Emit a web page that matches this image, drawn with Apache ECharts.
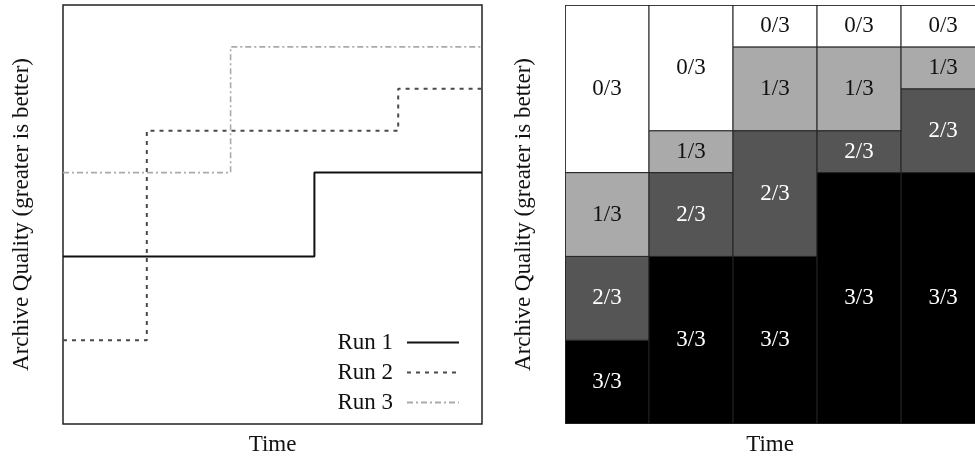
<!DOCTYPE html>
<html>
<head>
<meta charset="utf-8">
<script src="https://cdn.jsdelivr.net/npm/echarts@6/dist/echarts.min.js"></script>
<style>
html,body{margin:0;padding:0;background:#fff;}
#chart{width:975px;height:459px;}
</style>
</head>
<body>
<div id="chart"></div>
<script>
// ---- Data ----
const runNames = ['Run 1', 'Run 2', 'Run 3'];
const run1 = [[0, 4], [6, 6], [10, 6]];
const run2 = [[0, 2], [2, 7], [8, 8], [10, 8]];
const run3 = [[0, 6], [4, 9], [10, 9]];

// right panel: time bins and cells (the last column is cut off by the picture edge)
const timeBins = [[0, 2], [2, 4], [4, 6], [6, 8], [8, 10]];
const cellCol   = [0, 0, 0, 0, 1, 1, 1, 1, 2, 2, 2, 2, 3, 3, 3, 3, 4, 4, 4, 4];
const cellLow   = [0, 2, 4, 6, 0, 4, 6, 7, 0, 4, 7, 9, 0, 6, 7, 9, 0, 6, 8, 9];
const cellHigh  = [2, 4, 6, 10, 4, 6, 7, 10, 4, 7, 9, 10, 6, 7, 9, 10, 6, 8, 9, 10];
const cellCount = [3, 2, 1, 0, 3, 2, 1, 0, 3, 2, 1, 0, 3, 2, 1, 0, 3, 2, 1, 0];
const runTotal = 3;
const rightVisibleMax = 9.76; // visible part of the time axis in the right panel

const xTitle = 'Time';
const yTitle = 'Archive Quality (greater is better)';

// ---- Styles ----
const FONT = 'Liberation Serif';
const FS = 23;
const fillByCount = ['#ffffff', '#aaaaaa', '#555555', '#000000'];
const textByCount = ['#111111', '#111111', '#ffffff', '#ffffff'];

const cellData = cellCol.map((c, i) => [timeBins[c][0], timeBins[c][1], cellLow[i], cellHigh[i], cellCount[i]]);

function axisPair(idx, xmax) {
  return {
    x: {
      type: 'value', gridIndex: idx, min: 0, max: xmax,
      axisLine: {show: false}, axisTick: {show: false}, axisLabel: {show: false}, splitLine: {show: false},
      name: xTitle, nameLocation: 'middle', nameGap: 9,
      nameTextStyle: {fontFamily: FONT, fontSize: FS, color: '#111', verticalAlign: 'top'}
    },
    y: {
      type: 'value', gridIndex: idx, min: 0, max: 10,
      axisLine: {show: false}, axisTick: {show: false}, axisLabel: {show: false}, splitLine: {show: false},
      name: yTitle, nameLocation: 'middle', nameGap: 30,
      nameTextStyle: {fontFamily: FONT, fontSize: FS, color: '#111'}
    }
  };
}
const a0 = axisPair(0, 10), a1 = axisPair(1, rightVisibleMax);

const chart = echarts.init(document.getElementById('chart'), null, {renderer: 'canvas'});
chart.setOption({
  animation: false,
  backgroundColor: '#fff',
  grid: [
    {left: 63, top: 5, width: 419, height: 419, show: true, borderColor: '#222', borderWidth: 1.5, backgroundColor: 'transparent', containLabel: false, outerBoundsMode: 'none'},
    {left: 565, top: 5, right: 0, height: 419, show: false, containLabel: false, outerBoundsMode: 'none'}
  ],
  xAxis: [a0.x, a1.x],
  yAxis: [a0.y, a1.y],
  legend: {
    data: runNames,
    orient: 'vertical',
    right: 510,
    top: 326,
    align: 'right',
    itemWidth: 52,
    itemHeight: 14,
    itemGap: 7,
    itemStyle: {opacity: 0},
    textStyle: {fontFamily: FONT, fontSize: FS, color: '#111', padding: [0, 9, 0, 0]},
    selectedMode: false
  },
  series: [
    {name: runNames[0], type: 'line', step: 'end', xAxisIndex: 0, yAxisIndex: 0, data: run1, symbol: 'none',
     lineStyle: {color: '#111', width: 2, type: 'solid'}, itemStyle: {color: '#111'}},
    {name: runNames[1], type: 'line', step: 'end', xAxisIndex: 0, yAxisIndex: 0, data: run2, symbol: 'none',
     lineStyle: {color: '#4a4a4a', width: 2, type: [4, 5]}, itemStyle: {color: '#4a4a4a'}},
    {name: runNames[2], type: 'line', step: 'end', xAxisIndex: 0, yAxisIndex: 0, data: run3, symbol: 'none',
     lineStyle: {color: '#aaa', width: 1.6, type: [6, 3, 2, 3]}, itemStyle: {color: '#aaa'}},
    {
      type: 'custom', xAxisIndex: 1, yAxisIndex: 1, data: cellData, clip: true,
      renderItem: function (params, api) {
        const x0 = api.value(0), x1 = api.value(1), y0 = api.value(2), y1 = api.value(3), k = api.value(4);
        const p0 = api.coord([x0, y1]);
        const p1 = api.coord([x1, y0]);
        const w = p1[0] - p0[0], h = p1[1] - p0[1];
        return {
          type: 'group',
          children: [
            {type: 'rect', shape: {x: p0[0], y: p0[1], width: w, height: h},
             style: {fill: fillByCount[k], stroke: '#222', lineWidth: 1}},
            {type: 'text', x: p0[0] + w / 2, y: p0[1] + h / 2,
             style: {text: k + '/' + runTotal, fill: textByCount[k], font: FS + 'px "' + FONT + '"', align: 'center', verticalAlign: 'middle'}}
          ]
        };
      }
    },
    {
      // outer frame of the right panel (top and left edges visible)
      type: 'custom', xAxisIndex: 1, yAxisIndex: 1, data: [[0, 10, 0, 10]], clip: true, z: 5, silent: true,
      renderItem: function (params, api) {
        const p0 = api.coord([api.value(0), api.value(3)]);
        const p1 = api.coord([api.value(1), api.value(2)]);
        return {type: 'rect', shape: {x: p0[0], y: p0[1], width: p1[0] - p0[0], height: p1[1] - p0[1]},
                style: {fill: 'none', stroke: '#222', lineWidth: 1.5}};
      }
    }
  ]
});
</script>
</body>
</html>
